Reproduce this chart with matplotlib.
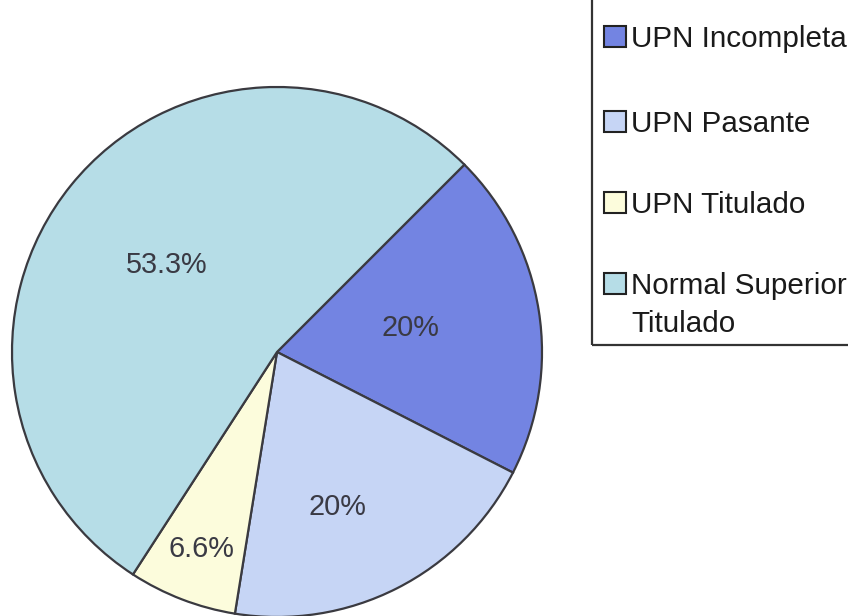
import numpy as np
import matplotlib.pyplot as plt
from matplotlib.patches import Rectangle

# datos
categorias = ['UPN Incompleta', 'UPN Pasante', 'UPN Titulado', 'Normal Superior\nTitulado']
porcentajes = [20, 20, 6.6, 53.3]
colores = ['#7384e2', '#c6d5f5', '#fcfcdc', '#b6dde7']

# posicion de las etiquetas: distancia al centro y giro respecto al centro de la rebanada
dist_etiqueta = [0.51, 0.627, 0.797, 0.53]
giro_etiqueta = [1.4, -5.4, 0.2, 0.5]

plt.rcParams['font.family'] = ['Liberation Sans', 'DejaVu Sans']

W, H = 848, 616
fig = plt.figure(figsize=(W / 100, H / 100), dpi=100)

# centro del pastel en (277, 352) px, radio 265 px
cx, cy, r = 277, 352, 265
ax = fig.add_axes([(cx - r) / W, (H - cy - r) / H, 2 * r / W, 2 * r / H])
wedges, _ = ax.pie(porcentajes, colors=colores, startangle=45, counterclock=False,
                   normalize=True,
                   wedgeprops=dict(edgecolor='#3a3a40', linewidth=1.6))
ax.set_xlim(-1, 1)
ax.set_ylim(-1, 1)
for w in wedges:
    w.set_clip_on(False)

for w, v, d, g in zip(wedges, porcentajes, dist_etiqueta, giro_etiqueta):
    ang = np.deg2rad((w.theta1 + w.theta2) / 2 + g)
    ax.text(d * np.cos(ang), d * np.sin(ang), f'{v:g}%', ha='center', va='center',
            fontsize=20.8, color='#3a3a44')

# leyenda dibujada a mano (filas en px desde arriba)
filas = [36.5, 121, 202, 283]
paso_linea = 38
for cat, col, yc in zip(categorias, colores, filas):
    fig.patches.append(Rectangle((604 / W, 1 - (yc + 10.5) / H), 22 / W, 21 / H,
                                 transform=fig.transFigure, facecolor=col,
                                 edgecolor='#222222', linewidth=1.5))
    for k, linea in enumerate(cat.split('\n')):
        base = yc + k * paso_linea + 10.5
        fig.text(631 / W, 1 - base / H, linea, ha='left', va='baseline',
                 fontsize=21.3, color='#1a1a1a')

fig.patches.append(Rectangle((592 / W, 1 - 345 / H), 300 / W, 400 / H,
                             transform=fig.transFigure, fill=False,
                             edgecolor='#333333', linewidth=1.6))

fig.savefig('out.png', dpi=100)
